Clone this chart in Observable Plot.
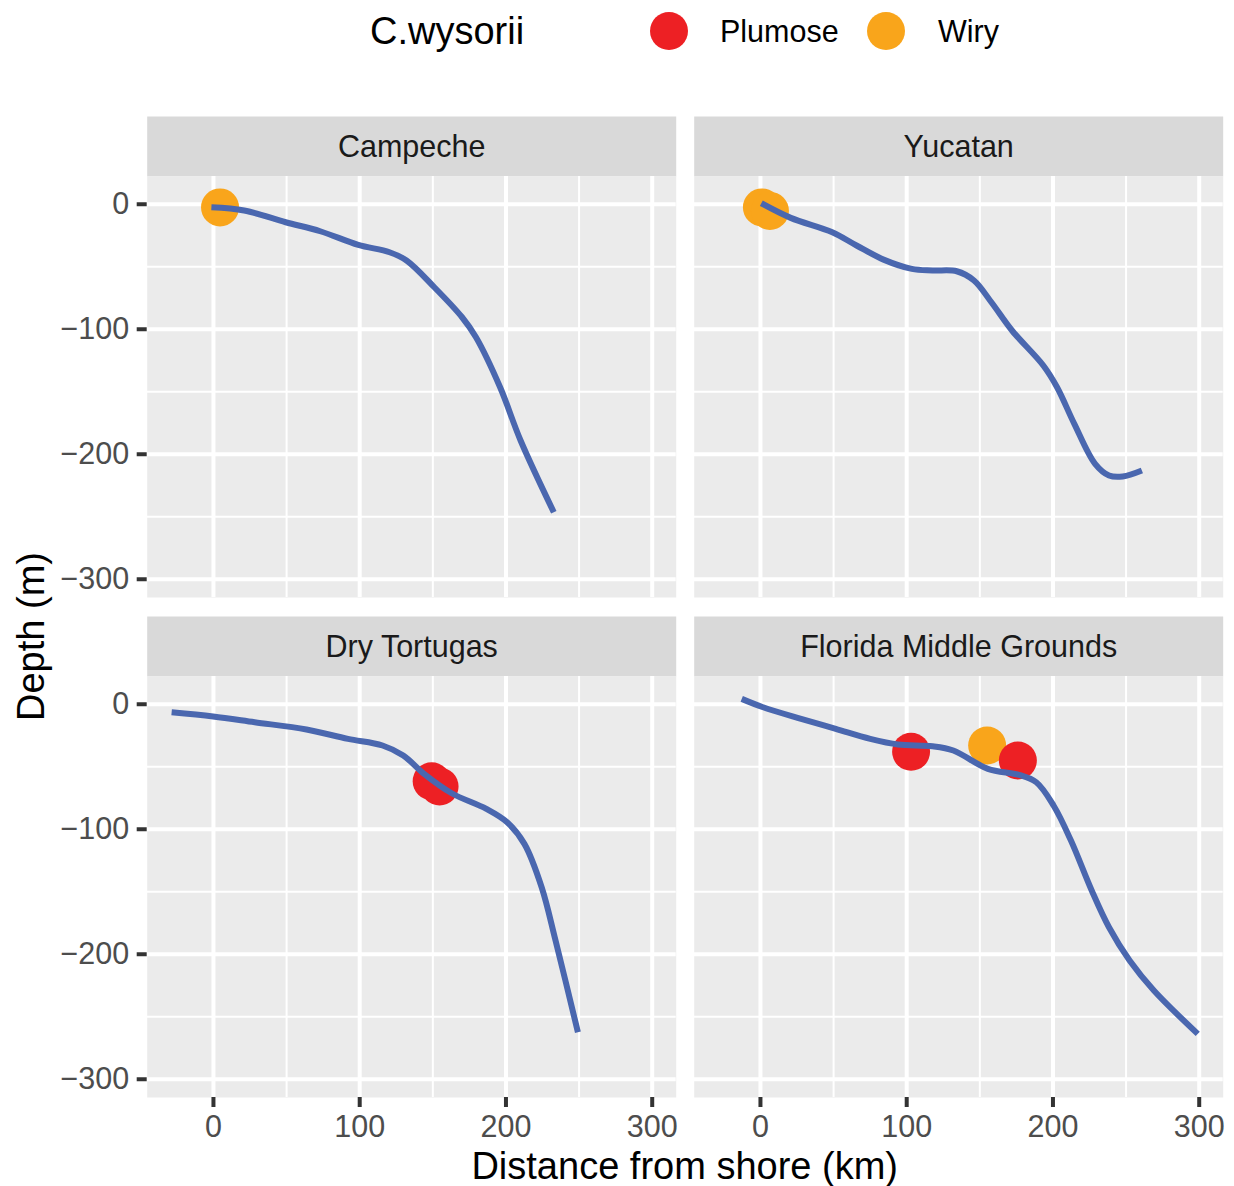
<!DOCTYPE html>
<html>
<head>
<meta charset="utf-8">
<script src="https://cdn.jsdelivr.net/npm/d3@7"></script>
<script src="https://cdn.jsdelivr.net/npm/@observablehq/plot@0.6"></script>
<style>
html, body { margin: 0; padding: 0; background: #ffffff; }
#chart { position: relative; width: 1234px; height: 1186px; font-family: "Liberation Sans", Arial, Helvetica, sans-serif; }
</style>
</head>
<body>
<div id="chart"></div>
<script>
// ---------------- data ----------------
const regions = ["Campeche", "Yucatan", "Dry Tortugas", "Florida Middle Grounds"];
const morphs = ["Plumose", "Wiry"];
const morphColors = ["#ED2024", "#F9A51B"];
const legendTitle = "C.wysorii";
const xTitle = "Distance from shore (km)";
const yTitle = "Depth (m)";

const xTicks = [0, 100, 200, 300];
const xMinor = [50, 150, 250];
const yTicks = [0, -100, -200, -300];
const yMinor = [-50, -150, -250];

// smoothed depth profiles
const campecheDist  = [-1.4, 21, 49.4, 73, 99, 120.4, 132, 151, 170, 179.5, 196, 210, 232.7];
const campecheDepth = [-2.4, -5, -14.4, -21.6, -32.5, -38.4, -45, -66.4, -90.4, -106.4, -146.4, -189, -246.4];

const yucatanDist  = [0.6, 20.7, 49.1, 65.7, 84.6, 103.5, 117.7, 134.2, 146, 157.9, 172, 193.4, 202.8, 214.6, 228.8, 238.3, 247.7, 260.8];
const yucatanDepth = [0.8, -10.9, -22.4, -33, -44.5, -51.7, -53, -53.6, -61, -78.4, -101, -129, -146.4, -175.7, -207.7, -217, -217.8, -213];

const tortugasDist  = [-28.6, -0.2, 28.2, 63.6, 92, 115.6, 129.8, 144, 162.9, 186.6, 200.8, 212.6, 224.4, 233.9, 249.2];
const tortugasDepth = [-6.4, -9.8, -14.4, -20.2, -27.7, -33, -41, -55.7, -71.2, -83.7, -94.4, -111.7, -146.4, -189, -262.4];

const floridaDist  = [-12.8, 1.8, 27.8, 51.5, 75.1, 94, 117.7, 131.9, 155.5, 176.8, 188.6, 200.4, 212.3, 226.5, 238.3, 252.4, 269, 299];
const floridaDepth = [4.3, -2.4, -11.7, -19.7, -27.7, -32.2, -33.6, -37, -51.7, -56.5, -62.4, -81, -109, -149, -178.4, -205, -229, -263.7];

// sampled specimens
const pointRegion = ["Campeche", "Yucatan", "Yucatan", "Dry Tortugas", "Dry Tortugas", "Florida Middle Grounds", "Florida Middle Grounds", "Florida Middle Grounds"];
const pointDist   = [4.5, 1, 6.5, 149.2, 154.6, 103, 155, 176];
const pointDepth  = [-2.5, -2.5, -5.3, -61.6, -65.8, -38, -33, -45];
const pointMorph  = ["Wiry", "Wiry", "Wiry", "Plumose", "Plumose", "Plumose", "Wiry", "Plumose"];

// ---------------- tables ----------------
const col = r => regions.indexOf(r) % 2;
const row = r => Math.floor(regions.indexOf(r) / 2);

const profileSets = [
  ["Campeche", campecheDist, campecheDepth],
  ["Yucatan", yucatanDist, yucatanDepth],
  ["Dry Tortugas", tortugasDist, tortugasDepth],
  ["Florida Middle Grounds", floridaDist, floridaDepth]
];
const profiles = profileSets.flatMap(([region, xs, ys]) =>
  xs.map((x, i) => ({region, dist: x, depth: ys[i], col: col(region), row: row(region)})));

const points = pointRegion.map((region, i) => ({
  region, dist: pointDist[i], depth: pointDepth[i], morph: pointMorph[i], col: col(region), row: row(region)
}));

const strips = regions.map(region => ({region, col: col(region), row: row(region)}));

// ---------------- chart ----------------
const FS = 30.5;
const TITLE_FS = 38;
const xDom = [-45.3, 316.4];
const yDom = [-314.6, 22.2];
const STRIP = 60;
const PANEL_H = 421;

const plot = Plot.plot({
  width: 1234,
  height: 1186,
  marginTop: 116,
  marginBottom: 89,
  marginLeft: 146.7,
  marginRight: 11.3,
  style: {fontFamily: '"Liberation Sans", Arial, Helvetica, sans-serif', fontSize: FS + "px", background: "#ffffff", overflow: "visible"},
  fx: {domain: [0, 1], axis: null, paddingInner: 0.0329, paddingOuter: 0, round: false},
  fy: {domain: [0, 1], axis: null, paddingInner: 0.038, paddingOuter: 0, round: false},
  x: {domain: xDom, axis: null},
  y: {domain: yDom, axis: null, insetTop: STRIP},
  color: {domain: morphs, range: morphColors},
  marks: [
    Plot.frame({fill: "#D9D9D9", stroke: null, insetBottom: PANEL_H}),
    Plot.frame({fill: "#EBEBEB", stroke: null, insetTop: STRIP}),
    Plot.ruleX(xMinor, {x: d => d, y1: yDom[0], y2: yDom[1], stroke: "#ffffff", strokeWidth: 2}),
    Plot.ruleY(yMinor, {y: d => d, x1: xDom[0], x2: xDom[1], stroke: "#ffffff", strokeWidth: 2}),
    Plot.ruleX(xTicks, {x: d => d, y1: yDom[0], y2: yDom[1], stroke: "#ffffff", strokeWidth: 4}),
    Plot.ruleY(yTicks, {y: d => d, x1: xDom[0], x2: xDom[1], stroke: "#ffffff", strokeWidth: 4}),
    Plot.text(strips, {
      fx: "col", fy: "row", text: "region",
      frameAnchor: "top", dy: STRIP / 2 + 1, lineAnchor: "middle",
      fill: "#1A1A1A", fontSize: FS
    }),
    Plot.dot(points, {x: "dist", y: "depth", fx: "col", fy: "row", fill: "morph", r: 19, stroke: null}),
    Plot.line(profiles, {
      x: "dist", y: "depth", fx: "col", fy: "row", z: "region",
      stroke: "#4A67AF", strokeWidth: 6, strokeLinecap: "butt", curve: "catmull-rom"
    }),
    Plot.axisX(xTicks, {
      tickSize: 10, tickPadding: 8, stroke: "#333333", strokeWidth: 4,
      fill: "#4D4D4D", fontSize: FS, label: null
    }),
    Plot.axisY(yTicks, {
      tickSize: 10, tickPadding: 8, stroke: "#333333", strokeWidth: 4,
      fill: "#4D4D4D", fontSize: FS, label: null
    })
  ]
});

document.getElementById("chart").appendChild(plot);

// ---------------- titles & legend ----------------
const svg = d3.select(plot);
const fontFam = '"Liberation Sans", Arial, Helvetica, sans-serif';

svg.append("text")
  .attr("x", 684.7).attr("y", 1179)
  .attr("text-anchor", "middle")
  .attr("font-family", fontFam).attr("font-size", TITLE_FS).attr("fill", "#000000")
  .text(xTitle);

svg.append("text")
  .attr("transform", "translate(44,636.5) rotate(-90)")
  .attr("text-anchor", "middle")
  .attr("font-family", fontFam).attr("font-size", TITLE_FS).attr("fill", "#000000")
  .text(yTitle);

const colorScale = plot.scale("color");
const legend = svg.append("g").attr("class", "legend").attr("text-anchor", "start");
legend.append("text")
  .attr("x", 370).attr("y", 44)
  .attr("text-anchor", "start")
  .attr("font-family", fontFam).attr("font-size", TITLE_FS).attr("fill", "#000000")
  .text(legendTitle);

const legendKeyX = [669, 886];
const legendLabelX = [720, 938];
morphs.forEach((m, i) => {
  legend.append("circle")
    .attr("cx", legendKeyX[i]).attr("cy", 31).attr("r", 19)
    .attr("fill", colorScale.apply(m));
  legend.append("text")
    .attr("x", legendLabelX[i]).attr("y", 42)
    .attr("text-anchor", "start")
    .attr("font-family", fontFam).attr("font-size", FS).attr("fill", "#000000")
    .text(m);
});
</script>
</body>
</html>
